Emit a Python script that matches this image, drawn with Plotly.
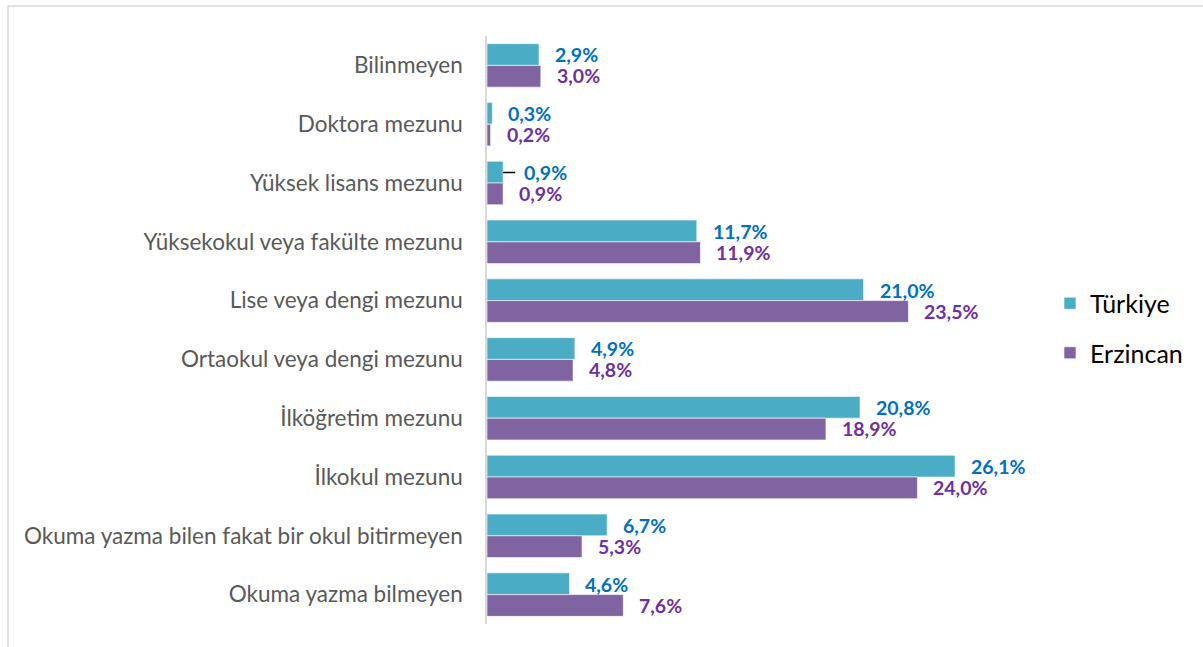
import plotly.graph_objects as go

categories = ["Bilinmeyen", "Doktora mezunu", "Yüksek lisans mezunu",
              "Yüksekokul veya fakülte mezunu", "Lise veya dengi mezunu",
              "Ortaokul veya dengi mezunu", "İlköğretim mezunu", "İlkokul mezunu",
              "Okuma yazma bilen fakat bir okul bitirmeyen", "Okuma yazma bilmeyen"]
turkiye = [2.9, 0.3, 0.9, 11.7, 21.0, 4.9, 20.8, 26.1, 6.7, 4.6]
erzincan = [3.0, 0.2, 0.9, 11.9, 23.5, 4.8, 18.9, 24.0, 5.3, 7.6]
series_names = ["Türkiye", "Erzincan"]

C_TR, C_ER = "#4BACC6", "#8064A2"
L_TR, L_ER = "#0070C0", "#7030A0"
FONT = "Lato"
W, H = 1203, 647
ML, MR, MT, MB = 487, 178, 36, 23
XMAX = 30.0

fig = go.Figure()
fig.add_trace(go.Bar(y=categories, x=turkiye, orientation="h", name=series_names[0],
                     marker=dict(color=C_TR, line=dict(color="rgba(255,255,255,0.6)", width=1)),
                     legendgroup="a", hoverinfo="x+y"))
fig.add_trace(go.Bar(y=categories, x=erzincan, orientation="h", name=series_names[1],
                     marker=dict(color=C_ER, line=dict(color="rgba(255,255,255,0.6)", width=1)),
                     legendgroup="b", hoverinfo="x+y"))

annotations = []
for vals, col, ysh in ((turkiye, L_TR, 10.5), (erzincan, L_ER, -10.5)):
    for c, v in zip(categories, vals):
        txt = f"{v:.1f}%".replace(".", ",")
        f = dict(family=FONT, size=19.5, color=col, weight="bold")
        if c == "Yüksek lisans mezunu" and vals is turkiye:
            annotations.append(dict(x=v, y=c, yshift=ysh, text=txt, showarrow=True,
                                    arrowhead=0, arrowwidth=1.5, arrowcolor="black",
                                    ax=12, ay=0, xanchor="left", standoff=0, borderpad=8,
                                    font=f))
        else:
            annotations.append(dict(x=v, y=c, yshift=ysh, xshift=14, text=txt, showarrow=False,
                                    xanchor="left", font=f))

pw = W - ML - MR
ph = H - MT - MB
fig.update_layout(
    width=W, height=H,
    margin=dict(l=ML, r=MR, t=MT, b=MB),
    paper_bgcolor="white", plot_bgcolor="white",
    barmode="group", bargap=0.26, bargroupgap=0.0,
    annotations=annotations,
    xaxis=dict(range=[0, XMAX], showgrid=False, showticklabels=False, zeroline=False,
               showline=False, fixedrange=True),
    yaxis=dict(autorange="reversed", showline=True, linecolor="#D9D9D9", linewidth=1.5,
               ticks="", ticklabelstandoff=18,
               tickfont=dict(family=FONT, size=22.5, color="#595959")),
    legend=dict(x=(1050 - ML) / pw, y=(H - MB - 328) / ph, xanchor="left", yanchor="middle",
                traceorder="grouped", tracegroupgap=14, itemwidth=30,
                font=dict(family=FONT, size=25, color="#000000")),
    shapes=[dict(type="rect", xref="paper", yref="paper",
                 x0=(8 - ML) / pw, x1=(W + 20 - ML) / pw,
                 y0=-(MB + 20) / ph, y1=(H - MB - 6) / ph,
                 line=dict(color="#D9D9D9", width=1.5), layer="below")],
    showlegend=True,
)
fig.write_html("out.html", config={"displayModeBar": False},
               post_script="document.body.style.margin='0px';")
